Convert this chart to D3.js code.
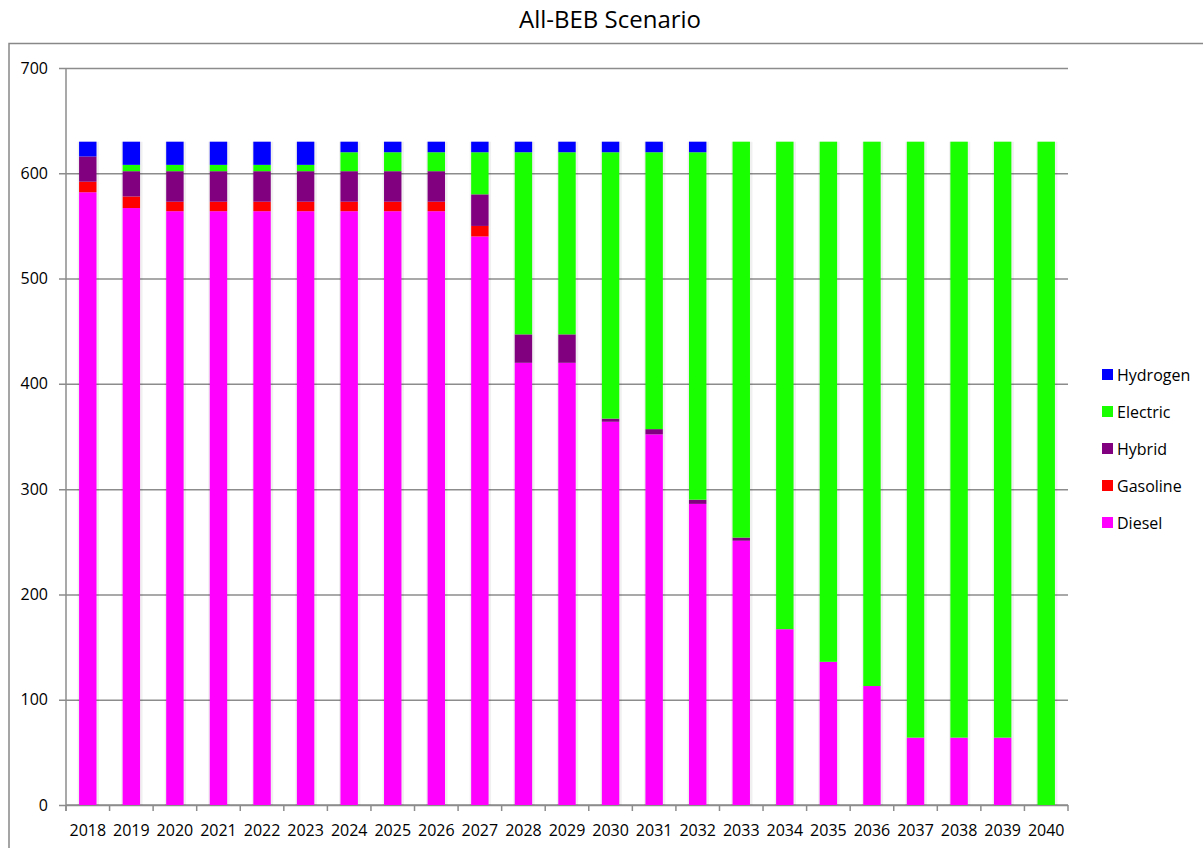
<!DOCTYPE html>
<html>
<head>
<meta charset="utf-8">
<script src="https://cdn.jsdelivr.net/npm/d3@7"></script>
<style>
  html, body { margin: 0; padding: 0; background: #fff; }
  svg { display: block; font-family: "Open Sans", "Noto Sans", sans-serif; }
</style>
</head>
<body>
<svg id="chart" width="1203" height="848"></svg>
<script>
// Bus fleet composition by year, All-BEB scenario
const years = ["2018","2019","2020","2021","2022","2023","2024","2025","2026","2027","2028","2029",
               "2030","2031","2032","2033","2034","2035","2036","2037","2038","2039","2040"];
const diesel   = [582,567,564,564,564,564,564,564,564,540,420,420,364,352,286,251,167,136,113,64,64,64,0];
const gasoline = [ 10, 11,  9,  9,  9,  9,  9,  9,  9, 10,  0,  0,  0,  0,  0,  0,  0,  0,  0, 0, 0, 0,0];
const hybrid   = [ 24, 24, 29, 29, 29, 29, 29, 29, 29, 30, 27, 27,  3,  5,  4,  3,  0,  0,  0, 0, 0, 0,0];
const electric = [  0,  6,  6,  6,  6,  6, 18, 18, 18, 40,173,173,253,263,330,376,463,494,517,566,566,566,630];
const hydrogen = [ 14, 22, 22, 22, 22, 22, 10, 10, 10, 10, 10, 10, 10, 10, 10,  0,  0,  0,  0, 0, 0, 0,0];
const yTicks = [0,100,200,300,400,500,600,700];

const seriesNames  = ["Diesel","Gasoline","Hybrid","Electric","Hydrogen"];
const seriesValues = [diesel, gasoline, hybrid, electric, hydrogen];
const colors = {Diesel:"#ff00ff", Gasoline:"#ff0000", Hybrid:"#800080", Electric:"#1aff00", Hydrogen:"#0000ff"};

const table = years.map((y, i) => {
  const row = {year: y};
  seriesNames.forEach((n, k) => row[n] = seriesValues[k][i]);
  return row;
});
const stacked = d3.stack().keys(seriesNames)(table);

const svg = d3.select("#chart");
const margin = {left: 66, right: 135, top: 68, bottom: 43};
const W = 1203, H = 848;

// Outer chart frame
svg.append("rect").attr("x", 9).attr("y", 43.5).attr("width", 1220).attr("height", 830)
  .attr("fill", "none").attr("stroke", "#888").attr("stroke-width", 1.5);

svg.append("text").attr("x", 610).attr("y", 28).attr("text-anchor", "middle")
  .attr("font-size", 24).attr("fill", "#000").text("All-BEB Scenario");

const x = d3.scaleBand().domain(years).range([margin.left, W - margin.right]).paddingInner(0.6).paddingOuter(0.3);
const y = d3.scaleLinear().domain([0, 700]).range([H - margin.bottom, margin.top]);

// Horizontal gridlines with tick labels
const yAxis = d3.axisLeft(y).tickValues(yTicks).tickSize(-(W - margin.right - margin.left)).tickPadding(10);
const gy = svg.append("g").attr("transform", `translate(${margin.left},0)`).call(yAxis);
gy.select(".domain").remove();
gy.selectAll(".tick line").attr("stroke", "#8c8c8c").attr("stroke-width", 1.5).attr("x1", -7);
gy.selectAll(".tick text").attr("font-size", 16).attr("fill", "#000").attr("x", -18)
  .attr("font-family", "'Open Sans', sans-serif");

// Vertical axis line
svg.append("line").attr("x1", margin.left).attr("x2", margin.left)
  .attr("y1", y(700)).attr("y2", y(0) + 6).attr("stroke", "#8c8c8c").attr("stroke-width", 1.5);

// Category axis with ticks between bars
const xOuter = d3.scalePoint().domain(d3.range(years.length + 1)).range([margin.left, W - margin.right]);
svg.append("g").selectAll("line").data(d3.range(years.length + 1)).join("line")
  .attr("x1", d => xOuter(d)).attr("x2", d => xOuter(d))
  .attr("y1", y(0)).attr("y2", y(0) + 6).attr("stroke", "#8c8c8c").attr("stroke-width", 1.5);
svg.append("line").attr("x1", margin.left).attr("x2", W - margin.right)
  .attr("y1", y(0)).attr("y2", y(0)).attr("stroke", "#8c8c8c").attr("stroke-width", 1.5);

svg.append("g").selectAll("text").data(years).join("text")
  .attr("x", d => x(d) + x.bandwidth() / 2).attr("y", y(0) + 31)
  .attr("text-anchor", "middle").attr("font-size", 16).attr("fill", "#000").text(d => d);

// Soft shadow behind each bar
const totals = table.map(r => seriesNames.reduce((s, n) => s + r[n], 0));
svg.append("g").selectAll("rect").data(years).join("rect")
  .attr("x", d => x(d) - 1.5).attr("width", x.bandwidth() + 4)
  .attr("y", (d, i) => y(totals[i])).attr("height", (d, i) => y(0) - y(totals[i]))
  .attr("fill", "#000").attr("opacity", 0.06);

// Stacked bars
svg.append("g").selectAll("g").data(stacked).join("g")
  .attr("fill", s => colors[s.key])
  .selectAll("rect").data(s => s).join("rect")
  .attr("x", d => x(d.data.year)).attr("width", x.bandwidth())
  .attr("y", d => y(d[1])).attr("height", d => y(d[0]) - y(d[1]));

// Legend
const legendOrder = ["Hydrogen","Electric","Hybrid","Gasoline","Diesel"];
const lg = svg.append("g").selectAll("g").data(legendOrder).join("g")
  .attr("transform", (d, i) => `translate(1102,${369 + i * 37})`);
lg.append("rect").attr("width", 11).attr("height", 11).attr("fill", d => colors[d]);
lg.append("text").attr("x", 15).attr("y", 11.5).attr("font-size", 16).attr("fill", "#000").text(d => d);
</script>
</body>
</html>
